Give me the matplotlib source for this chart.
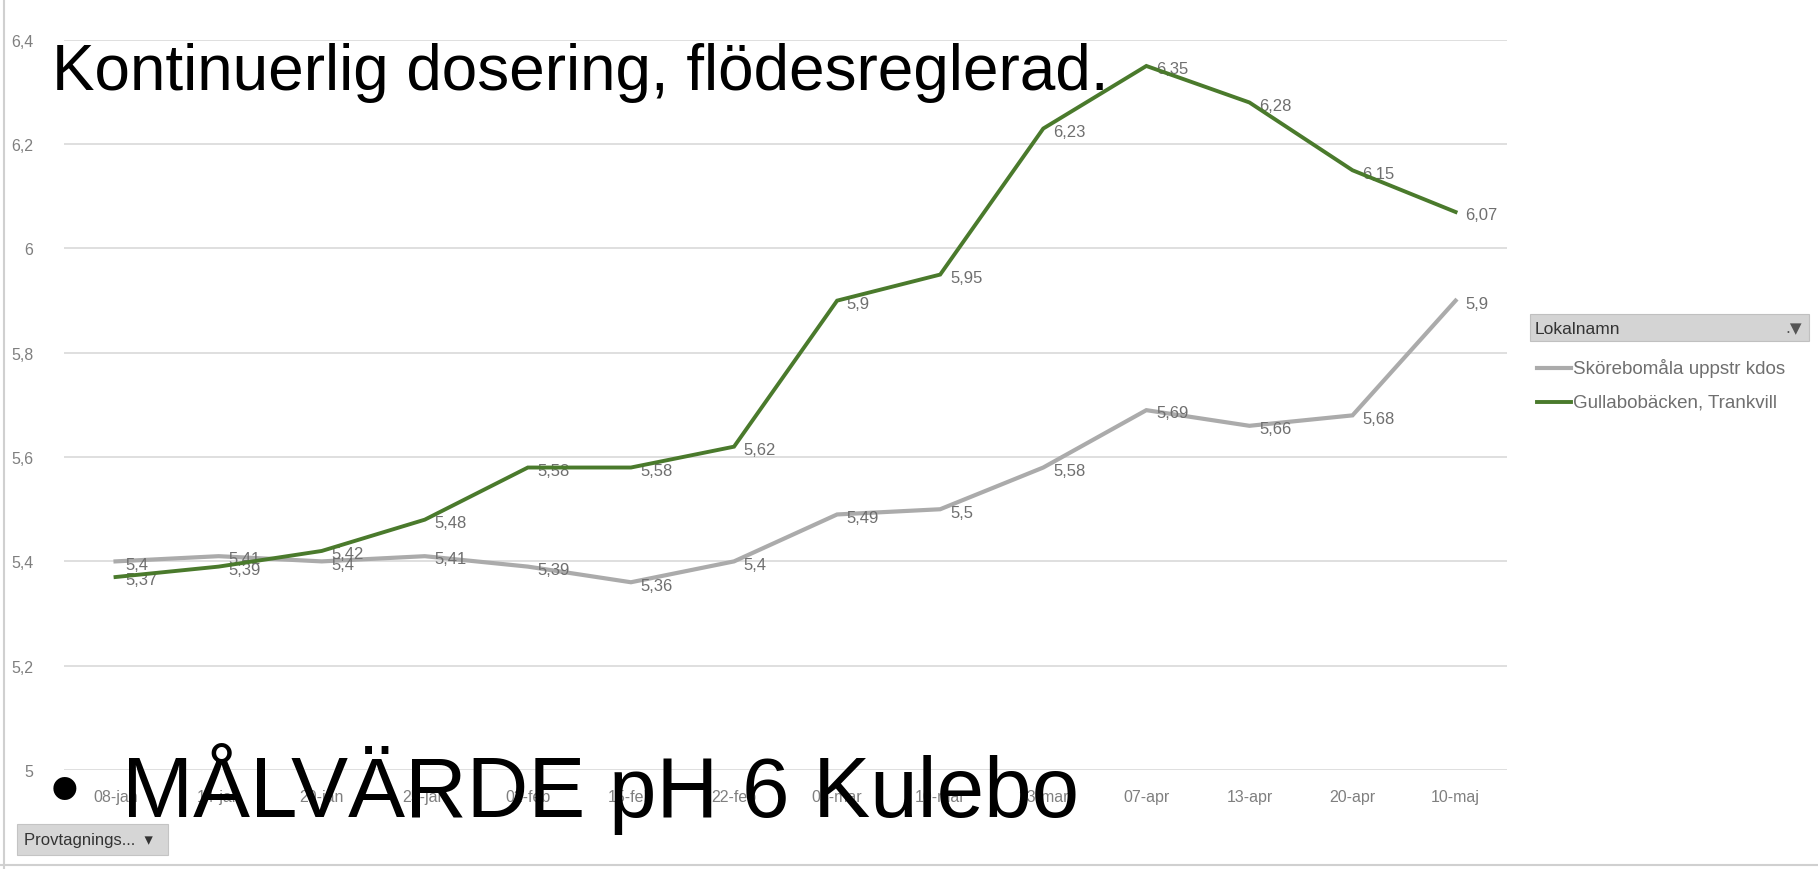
import matplotlib.pyplot as plt
from matplotlib.patches import Rectangle
from matplotlib.lines import Line2D

# sampling dates (several are hidden under the big text in the original)
dates = ['08-jan', '14-jan', '20-jan', '25-jan', '02-feb', '15-feb', '22-feb',
         '05-mar', '10-mar', '23-mar', '07-apr', '13-apr', '20-apr', '10-maj']
skorebomala = [5.4, 5.41, 5.4, 5.41, 5.39, 5.36, 5.4, 5.49, 5.5, 5.58, 5.69, 5.66, 5.68, 5.9]
gullabo = [5.37, 5.39, 5.42, 5.48, 5.58, 5.58, 5.62, 5.9, 5.95, 6.23, 6.35, 6.28, 6.15, 6.07]
yticks = [5.0, 5.2, 5.4, 5.6, 5.8, 6.0, 6.2, 6.4]

gray = '#ababab'
green = '#4a7a2c'
txtcol = '#7f7f7f'
small = ['Liberation Sans', 'DejaVu Sans']

def fmt(v):
    # swedish decimal comma, excel style (no trailing zeros)
    s = ('%.2f' % v).rstrip('0').rstrip('.')
    return s.replace('.', ',')

fig = plt.figure(figsize=(18.18, 8.7), dpi=100)
ax = fig.add_axes([0.0352, 0.1138, 0.7938, 0.8392])

x = list(range(len(dates)))
ax.plot(x, skorebomala, color=gray, lw=3.0, solid_joinstyle='miter', zorder=3)
ax.plot(x, gullabo, color=green, lw=2.8, solid_joinstyle='miter', zorder=4)

for xi, v in zip(x, skorebomala):
    ax.annotate(fmt(v), (xi, v), xytext=(7, -2), textcoords='offset points',
                ha='left', va='center', fontsize=12, color='#6f6f6f', family=small)
for xi, v in zip(x, gullabo):
    ax.annotate(fmt(v), (xi, v), xytext=(7, -2), textcoords='offset points',
                ha='left', va='center', fontsize=12, color='#6f6f6f', family=small)

ax.set_xlim(-0.5, len(dates) - 0.5)
ax.set_ylim(5.0, 6.4)
ax.set_yticks(yticks)
ax.set_yticklabels([fmt(t) for t in yticks], family=small)
ax.set_xticks(x)
ax.set_xticklabels(dates, family=small)
ax.tick_params(axis='both', length=0, colors=txtcol, labelsize=11.5)
ax.tick_params(axis='y', pad=22)
ax.tick_params(axis='x', pad=14)
ax.grid(axis='y', color='#d9d9d9', lw=1.2)
ax.set_axisbelow(True)
for s in ax.spines.values():
    s.set_visible(False)

# legend (pivot chart style with header box)
fig.patches.append(Rectangle((1530 / 1818, 1 - 342 / 870), 279 / 1818, 27 / 870,
                             transform=fig.transFigure, facecolor='#d4d4d4',
                             edgecolor='#c0c0c0', lw=0.8))
fig.text(1535 / 1818, 1 - 329 / 870, 'Lokalnamn', fontsize=12.5, color='#333333',
         va='center', ha='left', family=small)
fig.text(1802 / 1818, 1 - 329 / 870, '.\u25bc', fontsize=11, color='#555555',
         va='center', ha='right')
fig.lines.append(Line2D([1537 / 1818, 1571 / 1818], [1 - 369 / 870] * 2,
                        transform=fig.transFigure, color=gray, lw=3.0))
fig.lines.append(Line2D([1537 / 1818, 1571 / 1818], [1 - 403 / 870] * 2,
                        transform=fig.transFigure, color=green, lw=2.8))
fig.text(1573 / 1818, 1 - 369 / 870, 'Skörebomåla uppstr kdos', fontsize=13.5,
         color='#6f6f6f', va='center', ha='left', family=small)
fig.text(1573 / 1818, 1 - 403 / 870, 'Gullabobäcken, Trankvill', fontsize=13.5,
         color='#6f6f6f', va='center', ha='left', family=small)

# field button bottom left
fig.patches.append(Rectangle((17 / 1818, 1 - 856 / 870), 151 / 1818, 31 / 870,
                             transform=fig.transFigure, facecolor='#d6d6d6',
                             edgecolor='#c4c4c4', lw=0.8))
fig.text(24 / 1818, 1 - 841 / 870, 'Provtagnings...  \u25be', fontsize=12,
         color='#333333', va='center', ha='left', family=small)

# frame lines of the screenshot
fig.lines.append(Line2D([4 / 1818, 4 / 1818], [0, 1], transform=fig.transFigure,
                        color='#d0d0d0', lw=1.5))
fig.lines.append(Line2D([0, 1], [4 / 870, 4 / 870], transform=fig.transFigure,
                        color='#d0d0d0', lw=1.5))

# slide text on top
fig.text(52 / 1818, 1 - 90 / 870, 'Kontinuerlig dosering, flödesreglerad.',
         fontsize=46, color='black', family='Liberation Sans', ha='left', va='baseline')
fig.text(50 / 1818, 1 - 817 / 870, '\u2022', fontsize=61, color='black',
         family='Liberation Sans', ha='left', va='baseline')
fig.text(122 / 1818, 1 - 817 / 870, 'MÅLVÄRDE pH 6 Kulebo',
         fontsize=61.5, color='black', family='Liberation Sans', ha='left', va='baseline')

fig.savefig('out.png', dpi=100, facecolor='white')
